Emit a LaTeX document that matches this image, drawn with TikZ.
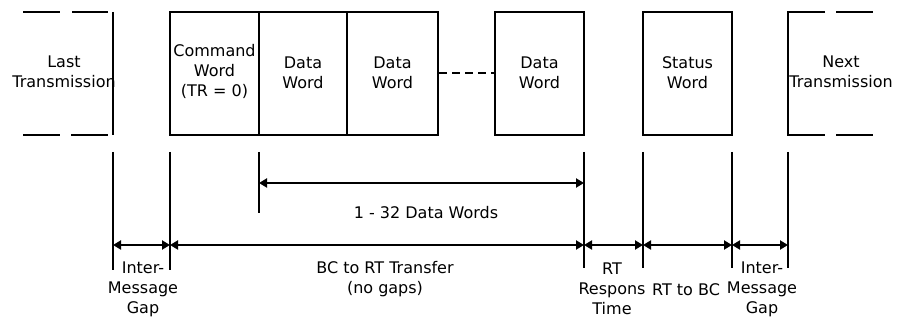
\documentclass[tikz,border=0pt]{standalone}
\usepackage{fontspec}
\setmainfont{DejaVu Sans}
\usetikzlibrary{arrows.meta}
\begin{document}
\begin{tikzpicture}[x=1pt,y=-1pt,
  every node/.style={font=\fontsize{16}{20}\selectfont, inner sep=0pt, align=center},
  wordbox/.style={draw, line width=2pt, minimum height=123pt},
  edge/.style={line width=2pt},
  tick/.style={line width=2pt},
  dimline/.style={line width=2pt, {Triangle[length=8pt,width=9pt]}-{Triangle[length=8pt,width=9pt]}},
  dashlink/.style={line width=2pt, dash pattern=on 8pt off 5pt}]
\useasboundingbox[fill=white] (0,0) rectangle (897,320);

% Last transmission (open box)
\draw[edge] (23,12) -- (60,12) (72,12) -- (108,12);
\draw[edge] (23,135) -- (60,135) (71,135) -- (108,135);
\draw[edge] (113,12) -- (113,135);
\node (last) at (64,72) {Last\\Transmission};

% Words
\node[wordbox, minimum width=89pt] (cmd) at (214.5,73.5) {};
\node[wordbox, minimum width=88pt] (d1) at (303,73.5) {};
\node[wordbox, minimum width=91pt] (d2) at (392.5,73.5) {};
\node[wordbox, minimum width=89pt] (dn) at (539.5,73.5) {};
\node[wordbox, minimum width=89pt] (st) at (687.5,73.5) {};
\node at (214.5,71) {Command\\Word\\(TR = 0)};
\node at (303,72.5) {Data\\Word};
\node at (392.5,72.5) {Data\\Word};
\node at (539.5,72.5) {Data\\Word};
\node at (687.5,72.5) {Status\\Word};
\draw[dashlink] (d2) -- (dn);

% Next transmission (open box)
\draw[edge] (825,12) -- (788,12) -- (788,135) -- (825,135);
\draw[edge] (836,12) -- (873,12) (836,135) -- (873,135);
\node (next) at (841,72) {Next\\Transmission};

% Ticks
\coordinate (t1) at (113,152); \coordinate (b1) at (113,270);
\coordinate (t2) at (170,152); \coordinate (b2) at (170,270);
\coordinate (t3) at (259,152); \coordinate (b3) at (259,213);
\coordinate (t4) at (584,152); \coordinate (b4) at (584,268);
\coordinate (t5) at (643,152); \coordinate (b5) at (643,268);
\coordinate (t6) at (732,152); \coordinate (b6) at (732,268);
\coordinate (t7) at (788,152); \coordinate (b7) at (788,268);
\foreach \i in {1,...,7} {\draw[tick] (t\i) -- (b\i);}

% Dimension arrows
\coordinate (u3) at (259,183); \coordinate (u4) at (584,183);
\draw[dimline] (u3) -- (u4);
\foreach \i/\x in {1/113,2/170,4/584,5/643,6/732,7/788} {\coordinate (r\i) at (\x,245);}
\draw[dimline] (r1) -- (r2);
\draw[dimline] (r2) -- (r4);
\draw[dimline] (r4) -- (r5);
\draw[dimline] (r5) -- (r6);
\draw[dimline] (r6) -- (r7);

% Labels
\node (lwords) at (426,213) {1 - 32 Data Words};
\node (lgap1) at (143,289) {Inter-\\Message\\Gap};
\node (lbcrt) at (385,279) {BC to RT Transfer\\(no gaps)};
\node (lresp) at (612,289) {RT\\Respons\\Time};
\node (lrtbc) at (686,290) {RT to BC};
\node (lgap2) at (762,289) {Inter-\\Message\\Gap};
\end{tikzpicture}
\end{document}
